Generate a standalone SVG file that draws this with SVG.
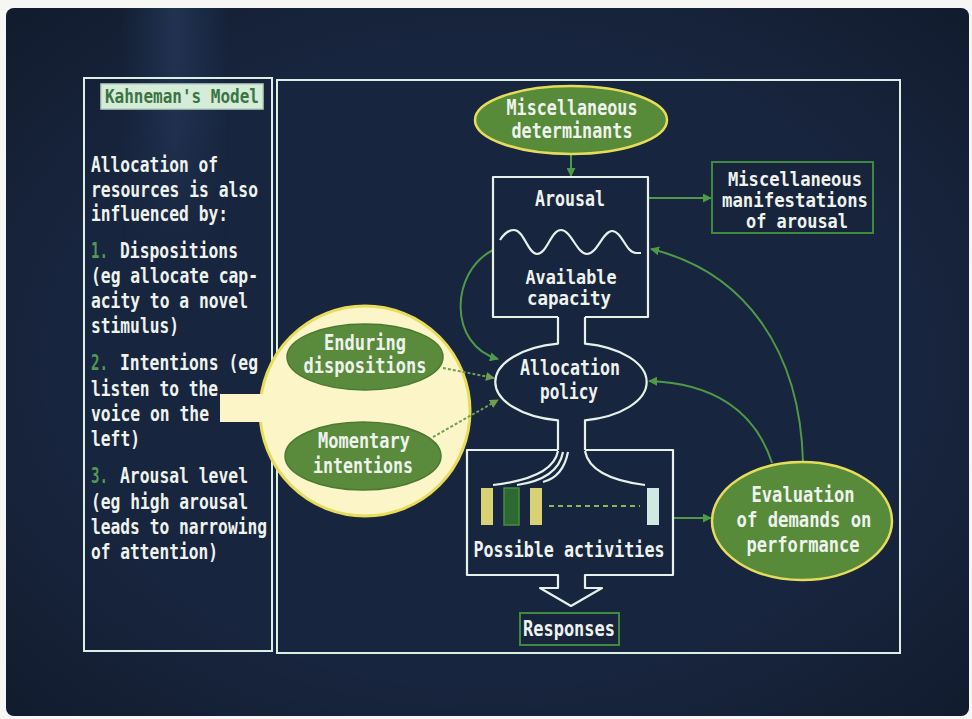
<svg xmlns="http://www.w3.org/2000/svg" width="972" height="719" viewBox="0 0 972 719">
  <defs>
    <linearGradient id="band" x1="0" y1="0" x2="1" y2="0">
      <stop offset="0" stop-color="#3a5a8a" stop-opacity="0"/>
      <stop offset="0.5" stop-color="#3a5a8a" stop-opacity="0.45"/>
      <stop offset="1" stop-color="#3a5a8a" stop-opacity="0"/>
    </linearGradient>
    <linearGradient id="bandFade" x1="0" y1="0" x2="0" y2="1">
      <stop offset="0" stop-color="#fff" stop-opacity="1"/>
      <stop offset="1" stop-color="#fff" stop-opacity="0"/>
    </linearGradient>
    <mask id="fadeMask">
      <rect x="0" y="0" width="972" height="260" fill="url(#bandFade)"/>
    </mask>
    <radialGradient id="vignette" cx="0.5" cy="0.5" r="0.75">
      <stop offset="0.6" stop-color="#000" stop-opacity="0"/>
      <stop offset="1" stop-color="#000" stop-opacity="0.3"/>
    </radialGradient>
    <marker id="arrow" viewBox="0 0 10 10" refX="9" refY="5" markerWidth="9" markerHeight="9" markerUnits="userSpaceOnUse" orient="auto">
      <path d="M0,0 L10,5 L0,10 z" fill="#4f9a46"/>
    </marker>
    <marker id="arrowDot" viewBox="0 0 10 10" refX="9" refY="5" markerWidth="9" markerHeight="9" markerUnits="userSpaceOnUse" orient="auto">
      <path d="M0,0 L10,5 L0,10 z" fill="#6f9e4c"/>
    </marker>
  </defs>
  <style>
    text { font-family: "DejaVu Sans Mono", "Liberation Mono", monospace; font-weight: bold; font-size: 21px; fill: #eef3ee; }
    .mid { text-anchor: middle; }
    .sm { font-size: 19px; }
    .num { fill: #4f9a55; }
    .title { fill: #3b7444; font-size: 19px; }
    .frame { fill: none; stroke: #dcefe4; stroke-width: 2; }
    .pipe { fill: none; stroke: #e6f1ea; stroke-width: 2.2; stroke-linejoin: round; }
    .gbox { fill: #17243c; stroke: #3f8a3e; stroke-width: 2; }
    .oval { fill: #578a39; stroke: #e6dc5c; stroke-width: 2.5; }
    .inner { fill: #5a8a3c; stroke: #4a7a30; stroke-width: 1.5; }
    .conn { fill: none; stroke: #4f9a46; stroke-width: 2; }
    .dot { fill: none; stroke: #6f9e4c; stroke-width: 2; stroke-dasharray: 3 2; }
  </style>

  <!-- monitor glass -->
  <rect x="0" y="0" width="972" height="719" fill="#f6f6f4"/>
  <rect x="6" y="8" width="963" height="708" rx="8" fill="#18253e"/>
  <rect x="120" y="8" width="110" height="260" fill="url(#band)" mask="url(#fadeMask)"/>
  <rect x="6" y="8" width="963" height="708" rx="8" fill="url(#vignette)"/>

  <!-- panel frames -->
  <rect class="frame" x="84" y="78" width="188" height="573"/>
  <rect class="frame" x="277" y="80" width="623" height="573"/>

  <!-- left panel: heading and notes -->
  <g id="heading">
    <rect x="101" y="84" width="162" height="25" fill="#d5ecd9" stroke="#b5d3bd" stroke-width="1.5"/>
    <text class="title" x="105" y="103" textLength="154" lengthAdjust="spacingAndGlyphs">Kahneman's Model</text>
  </g>
  <g id="notes">
    <text x="91" y="172" textLength="127" lengthAdjust="spacingAndGlyphs">Allocation of</text>
    <text x="91" y="197" textLength="167" lengthAdjust="spacingAndGlyphs">resources is also</text>
    <text x="91" y="221" textLength="137" lengthAdjust="spacingAndGlyphs">influenced by:</text>
    <text class="num" x="91" y="258" textLength="17" lengthAdjust="spacingAndGlyphs">1.</text>
    <text x="120" y="258" textLength="118" lengthAdjust="spacingAndGlyphs">Dispositions</text>
    <text x="91" y="283" textLength="167" lengthAdjust="spacingAndGlyphs">(eg allocate cap-</text>
    <text x="91" y="308" textLength="157" lengthAdjust="spacingAndGlyphs">acity to a novel</text>
    <text x="91" y="333" textLength="88" lengthAdjust="spacingAndGlyphs">stimulus)</text>
    <text class="num" x="91" y="370" textLength="17" lengthAdjust="spacingAndGlyphs">2.</text>
    <text x="120" y="370" textLength="138" lengthAdjust="spacingAndGlyphs">Intentions (eg</text>
    <text x="91" y="396" textLength="127" lengthAdjust="spacingAndGlyphs">listen to the</text>
    <text x="91" y="421" textLength="118" lengthAdjust="spacingAndGlyphs">voice on the</text>
    <text x="91" y="446" textLength="49" lengthAdjust="spacingAndGlyphs">left)</text>
    <text class="num" x="91" y="483" textLength="17" lengthAdjust="spacingAndGlyphs">3.</text>
    <text x="120" y="483" textLength="128" lengthAdjust="spacingAndGlyphs">Arousal level</text>
    <text x="91" y="509" textLength="157" lengthAdjust="spacingAndGlyphs">(eg high arousal</text>
    <text x="91" y="534" textLength="176" lengthAdjust="spacingAndGlyphs">leads to narrowing</text>
    <text x="91" y="559" textLength="127" lengthAdjust="spacingAndGlyphs">of attention)</text>
  </g>

  <!-- magnifier with the two influences -->
  <g id="influences">
    <circle cx="365" cy="411" r="105" fill="#fcf5c8" stroke="#e8dc5a" stroke-width="3"/>
    <rect x="220" y="394" width="48" height="28" fill="#fcf5c8"/>
  </g>
  <g id="enduring">
    <ellipse class="inner" cx="365" cy="357" rx="78" ry="33"/>
    <text class="mid" x="365" y="350" textLength="82" lengthAdjust="spacingAndGlyphs">Enduring</text>
    <text class="mid" x="365" y="373" textLength="123" lengthAdjust="spacingAndGlyphs">dispositions</text>
  </g>
  <g id="momentary">
    <ellipse class="inner" cx="363" cy="456" rx="78" ry="34"/>
    <text class="mid" x="364" y="448" textLength="92" lengthAdjust="spacingAndGlyphs">Momentary</text>
    <text class="mid" x="363" y="473" textLength="100" lengthAdjust="spacingAndGlyphs">intentions</text>
  </g>

  <!-- connectors -->
  <g id="connectors">
    <path class="conn" d="M571,155 L571,176" marker-end="url(#arrow)"/>
    <path class="conn" d="M649,198 L711,198" marker-end="url(#arrow)"/>
    <path class="conn" d="M674,518 L711,518" marker-end="url(#arrow)"/>
    <path class="conn" d="M803,462 C800,350 745,272 651,249" marker-end="url(#arrow)"/>
    <path class="conn" d="M772,463 C755,410 712,383 649,381" marker-end="url(#arrow)"/>
    <path class="conn" d="M493,250 C450,272 448,345 498,359" marker-end="url(#arrow)"/>
    <path class="dot" d="M443,368 L494,378" marker-end="url(#arrowDot)"/>
    <path class="dot" d="M433,437 L498,400" marker-end="url(#arrowDot)"/>
  </g>

  <g id="determinants">
    <ellipse class="oval" cx="571" cy="120" rx="96" ry="34"/>
    <text class="mid" x="572" y="115" textLength="131" lengthAdjust="spacingAndGlyphs">Miscellaneous</text>
    <text class="mid" x="572" y="138" textLength="121" lengthAdjust="spacingAndGlyphs">determinants</text>
  </g>

  <!-- arousal / capacity box, allocation policy and activities joined as one pipe -->
  <g id="arousal">
    <path class="pipe" d="M558,317 L493,317 L493,177 L648,177 L648,317 L585,317"/>
    <path class="pipe" d="M500,240 C505,232 509,230 514,230 C524,230 528,254 537,254 C547,254 551,230 561,230 C571,230 577,254 587,254 C597,254 603,231 612,231 C622,231 626,253 636,253 L641,253"/>
    <text class="mid" x="570" y="206" textLength="70" lengthAdjust="spacingAndGlyphs">Arousal</text>
    <text class="mid sm" x="571" y="284" textLength="91" lengthAdjust="spacingAndGlyphs">Available</text>
    <text class="mid sm" x="569" y="305" textLength="84" lengthAdjust="spacingAndGlyphs">capacity</text>
  </g>
  <g id="allocation">
    <path class="pipe" d="M558,317 L558,343.6 A76,39 0 0 0 558,420.4 L558,450"/>
    <path class="pipe" d="M585,317 L585,343.7 A76,39 0 0 1 585,420.3 L585,450"/>
    <text class="mid" x="570" y="375" textLength="100" lengthAdjust="spacingAndGlyphs">Allocation</text>
    <text class="mid" x="569" y="399" textLength="58" lengthAdjust="spacingAndGlyphs">policy</text>
  </g>
  <g id="activities">
    <path class="pipe" d="M558,450 L467,450 L467,575 L558,575 L558,588 L540,588 L571,606 L602,588 L585,588 L585,575 L673,575 L673,450 L585,450"/>
    <path class="pipe" d="M558,451 Q553,478 493,485"/>
    <path class="pipe" d="M563,452 Q558,479 517,485"/>
    <path class="pipe" d="M568,452 Q563,477 543,482"/>
    <path class="pipe" d="M585,451 Q590,478 645,485"/>
    <rect x="481" y="488" width="12" height="37" fill="#d9d274"/>
    <rect x="504" y="488" width="15" height="37" fill="#2d6a31" stroke="#4a8a45" stroke-width="1.5"/>
    <rect x="530" y="488" width="12" height="37" fill="#d9d274"/>
    <rect x="647" y="488" width="12" height="37" fill="#cfe9e2"/>
    <path d="M549,506 L640,506" stroke="#8cb852" stroke-width="2" stroke-dasharray="5 4" fill="none"/>
    <text class="mid" x="569" y="557" textLength="191" lengthAdjust="spacingAndGlyphs">Possible activities</text>
  </g>

  <g id="responses">
    <rect class="gbox" x="520" y="613" width="99" height="32"/>
    <text class="mid" x="569" y="636" textLength="92" lengthAdjust="spacingAndGlyphs">Responses</text>
  </g>

  <g id="manifestations">
    <rect class="gbox" x="712" y="162" width="161" height="71"/>
    <text class="mid sm" x="795" y="186" textLength="134" lengthAdjust="spacingAndGlyphs">Miscellaneous</text>
    <text class="mid sm" x="795" y="207" textLength="146" lengthAdjust="spacingAndGlyphs">manifestations</text>
    <text class="mid sm" x="797" y="228" textLength="102" lengthAdjust="spacingAndGlyphs">of arousal</text>
  </g>

  <g id="evaluation">
    <ellipse class="oval" cx="802" cy="521" rx="90" ry="59"/>
    <text class="mid" x="803" y="502" textLength="103" lengthAdjust="spacingAndGlyphs">Evaluation</text>
    <text class="mid" x="804" y="527" textLength="135" lengthAdjust="spacingAndGlyphs">of demands on</text>
    <text class="mid" x="803" y="552" textLength="113" lengthAdjust="spacingAndGlyphs">performance</text>
  </g>
</svg>
